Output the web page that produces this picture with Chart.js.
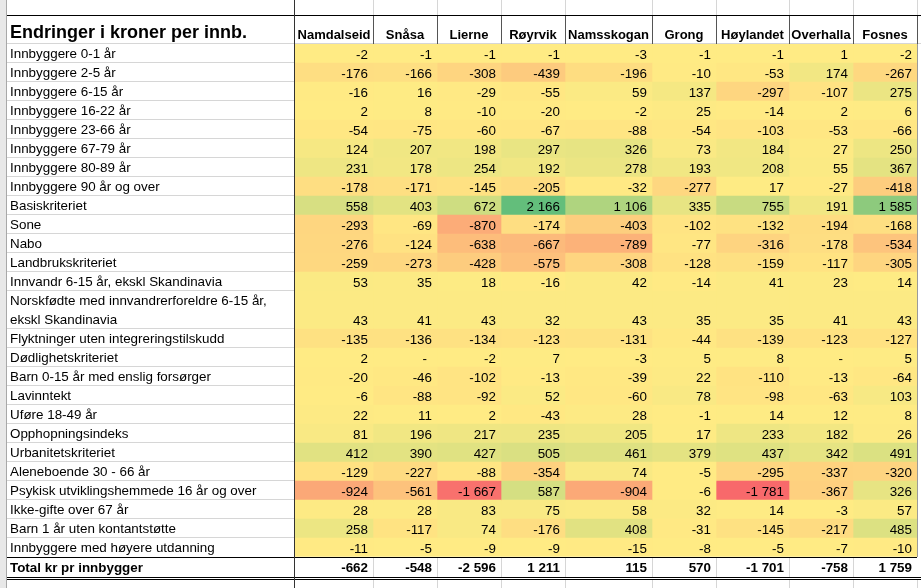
<!DOCTYPE html>
<html>
<head>
<meta charset="utf-8">
<script src="https://cdn.jsdelivr.net/npm/chart.js@4.4.1/dist/chart.umd.min.js"></script>
<style>
html,body{margin:0;padding:0;background:#fff;overflow:hidden}
#wrap{width:921px;height:588px;position:relative}
</style>
</head>
<body>
<div id="wrap"><canvas id="c" width="921" height="588"></canvas></div>
<script>
// ---------- DATA ----------
const title = 'Endringer i kroner per innb.';
const municipalities = ['Namdalseid','Snåsa','Lierne','Røyrvik','Namsskogan','Grong','Høylandet','Overhalla','Fosnes'];
const criteria = [
  'Innbyggere 0-1 år','Innbyggere 2-5 år','Innbyggere 6-15 år','Innbyggere 16-22 år',
  'Innbyggere 23-66 år','Innbyggere 67-79 år','Innbyggere 80-89 år','Innbyggere 90 år og over',
  'Basiskriteriet','Sone','Nabo','Landbrukskriteriet','Innvandr 6-15 år, ekskl Skandinavia',
  ['Norskfødte med innvandrerforeldre 6-15 år,','ekskl Skandinavia'],
  'Flyktninger uten integreringstilskudd','Dødlighetskriteriet','Barn 0-15 år med enslig forsørger',
  'Lavinntekt','Uføre 18-49 år','Opphopningsindeks','Urbanitetskriteriet','Aleneboende 30 - 66 år',
  'Psykisk utviklingshemmede 16 år og over','Ikke-gifte over 67 år','Barn 1 år uten kontantstøtte',
  'Innbyggere med høyere utdanning'
];
const totalLabel = 'Total kr pr innbygger';

const namdalseid = [-2,-176,-16,2,-54,124,231,-178,558,-293,-276,-259,53,43,-135,2,-20,-6,22,81,412,-129,-924,28,258,-11];
const snasa      = [-1,-166,16,8,-75,207,178,-171,403,-69,-124,-273,35,41,-136,0,-46,-88,11,196,390,-227,-561,28,-117,-5];
const lierne     = [-1,-308,-29,-10,-60,198,254,-145,672,-870,-638,-428,18,43,-134,-2,-102,-92,2,217,427,-88,-1667,83,74,-9];
const royrvik    = [-1,-439,-55,-20,-67,297,192,-205,2166,-174,-667,-575,-16,32,-123,7,-13,52,-43,235,505,-354,587,75,-176,-9];
const namsskogan = [-3,-196,59,-2,-88,326,278,-32,1106,-403,-789,-308,42,43,-131,-3,-39,-60,28,205,461,74,-904,58,408,-15];
const grong      = [-1,-10,137,25,-54,73,193,-277,335,-102,-77,-128,-14,35,-44,5,22,78,-1,17,379,-5,-6,32,-31,-8];
const hoylandet  = [-1,-53,-297,-14,-103,184,208,17,755,-132,-316,-159,41,35,-139,8,-110,-98,14,233,437,-295,-1781,14,-145,-5];
const overhalla  = [1,174,-107,2,-53,27,55,-27,191,-194,-178,-117,23,41,-123,0,-13,-63,12,182,342,-337,-367,-3,-217,-7];
const fosnes     = [-2,-267,275,6,-66,250,367,-418,1585,-168,-534,-305,14,43,-127,5,-64,103,8,26,491,-320,326,57,485,-10];
const totals     = [-662,-548,-2596,1211,115,570,-1701,-758,1759];

const columns = [namdalseid,snasa,lierne,royrvik,namsskogan,grong,hoylandet,overhalla,fosnes];

// ---------- LAYOUT / STYLE ----------
const W = 921, H = 588;
const COL_W = [78,64,64,64,87,64,73,64,64];
const ROW_H = 19, HEADER_H = 44, LABEL_W = 295, PAD_L = 10;
const FONT = '"Liberation Sans", Arial, sans-serif';
const FS = 13.4;
const RED = [248,105,107], YEL = [255,235,132], GRN = [99,190,123];

const rowLabels = criteria.concat([totalLabel]);
const rowSpan = criteria.map(l => Array.isArray(l) ? 2 : 1).concat([20/ROW_H]);
const rowStart = []; { let a = 0; rowSpan.forEach(s => { rowStart.push(a); a += s; }); }
const colStart = []; { let a = 0; COL_W.forEach(w => { colStart.push(a); a += w; }); }
const colCenter = colStart.map((s,j) => s + COL_W[j]/2);

// Excel style 3-colour scale (min / 50th percentile / max)
const sorted = columns.flat().slice().sort((a,b)=>a-b);
const nV = sorted.length, pIdx = (nV-1)*0.5, lo = Math.floor(pIdx);
const vMed = sorted[lo] + (sorted[Math.ceil(pIdx)] - sorted[lo])*(pIdx-lo);
const vMin = sorted[0], vMax = sorted[nV-1];
function mix(a,b,t){ return 'rgb(' + a.map((c,k)=>Math.round(c+(b[k]-c)*t)).join(',') + ')'; }
function cellColor(v){
  if (v <= vMed) return mix(RED, YEL, (v - vMin)/(vMed - vMin));
  return mix(YEL, GRN, (v - vMed)/(vMax - vMed));
}
function fmt(v){
  if (v === 0) return '-';
  const s = String(Math.abs(v)).replace(/\B(?=(\d{3})+(?!\d))/g, ' ');
  return (v < 0 ? '-' : '') + s;
}

const cellValues = columns.map((col,j) => col.concat([totals[j]]));

const datasets = municipalities.map((name,j) => ({
  label: name,
  stack: 'table',
  data: rowStart.map((s,i) => ({ x: colCenter[j], y: [s, s + rowSpan[i]] })),
  backgroundColor: cellValues[j].map((v,i) => i < criteria.length ? cellColor(v) : '#ffffff'),
  barThickness: COL_W[j],
  borderWidth: 0,
  barPercentage: 1,
  categoryPercentage: 1
}));

const tablePlugin = {
  id: 'tablePlugin',
  beforeDraw(chart){
    const c = chart.ctx;
    c.save();
    c.fillStyle = '#ffffff'; c.fillRect(0,0,chart.width,chart.height);
    c.fillStyle = '#e8e8e8'; c.fillRect(0,0,6,chart.height);
    c.fillStyle = '#a8a8a8'; c.fillRect(6,0,1,chart.height);
    c.restore();
  },
  afterDatasetsDraw(chart){
    const c = chart.ctx, ys = chart.scales.y, xs = chart.scales.x;
    c.save();
    // cell numbers
    chart.data.datasets.forEach((ds,j) => {
      const meta = chart.getDatasetMeta(j);
      meta.data.forEach((el,i) => {
        const v = cellValues[j][i];
        const bottom = Math.max(el.y, el.base);
        const right = el.x + el.width/2;
        const isTotal = i === criteria.length;
        c.font = (isTotal ? 'bold ' : '') + FS + 'px ' + FONT;
        c.fillStyle = '#000';
        c.textAlign = 'right';
        c.textBaseline = 'alphabetic';
        c.fillText(fmt(v), right - (v === 0 ? 10 : 5), bottom - (isTotal ? 5 : 4));
      });
    });
    // column header names
    c.font = 'bold 13px ' + FONT;
    c.textAlign = 'center';
    c.fillStyle = '#000';
    municipalities.forEach((m,j) => { c.fillText(m, xs.getPixelForValue(colCenter[j]), 38.5); });
    // grid lines
    const edges = colStart.map(s => Math.round(xs.getPixelForValue(s))).concat([Math.round(xs.getPixelForValue(colStart[colStart.length-1] + COL_W[COL_W.length-1]))]);
    const light = '#d6d6d6';
    c.fillStyle = light;
    rowStart.forEach((s,i) => {
      const y = Math.round(ys.getPixelForValue(s + rowSpan[i]));
      if (i < criteria.length - 1) c.fillRect(7, y-1, LABEL_W-7, 1);
    });
    c.fillRect(7, HEADER_H-1, W-7, 1);
    edges.slice(1).forEach(x => { c.fillRect(x, 0, 1, 16); });
    const yTot = Math.round(ys.getPixelForValue(rowStart[criteria.length]));
    const yTotB = Math.round(ys.getPixelForValue(rowStart[criteria.length] + rowSpan[criteria.length]));
    edges.slice(1, -1).forEach(x => { c.fillRect(x, yTot, 1, yTotB - yTot); c.fillRect(x, yTotB+3, 1, H); });
    c.fillRect(edges[edges.length-1], yTotB+3, 1, H);
    c.fillStyle = '#555';
    edges.slice(1).forEach(x => { c.fillRect(x, 16, 1, HEADER_H-16); });
    c.fillStyle = '#9a9a9a';
    c.fillRect(edges[edges.length-1], HEADER_H, 1, yTot - HEADER_H);
    c.fillStyle = '#000';
    c.fillRect(7, 15, W-7, 1);
    c.fillRect(7, yTot, edges[edges.length-1]-7, 1);
    c.fillRect(7, yTotB, W-7, 1);
    c.fillRect(7, yTotB+2, W-7, 1);
    c.fillStyle = '#333';
    c.fillRect(LABEL_W-1, 0, 1, H);
    // title
    c.fillStyle = '#000';
    c.font = 'bold 18px ' + FONT;
    c.textAlign = 'left';
    c.textBaseline = 'alphabetic';
    c.fillText(title, 10, 37.5);
    c.restore();
  }
};

new Chart(document.getElementById('c'), {
  type: 'bar',
  data: { datasets },
  plugins: [tablePlugin],
  options: {
    responsive: false,
    animation: false,
    devicePixelRatio: 1,
    layout: { padding: { left: PAD_L, top: 0, right: 0, bottom: 0 }, autoPadding: false },
    plugins: { legend: { display: false }, tooltip: { enabled: false }, title: { display: false } },
    scales: {
      x: {
        type: 'linear', position: 'top', min: 0, max: W - LABEL_W, offset: false,
        grid: { display: false, offset: false }, border: { display: false },
        ticks: { display: false },
        afterFit: s => { s.height = HEADER_H; s.paddingLeft = 0; s.paddingRight = 0; }
      },
      y: {
        type: 'linear', reverse: true, stacked: false, min: 0, max: (H - HEADER_H) / ROW_H,
        grid: { display: false }, border: { display: false },
        ticks: {
          autoSkip: false, crossAlign: 'far', padding: 0, color: '#000',
          font: ctx => ({ family: FONT, size: FS, lineHeight: '19px', weight: ctx.index === criteria.length ? 'bold' : 'normal' }),
          callback: (v, i) => rowLabels[i]
        },
        afterBuildTicks: s => { s.ticks = rowStart.map((st, i) => ({ value: st + rowSpan[i] / 2 + 1 / ROW_H })); },
        afterFit: s => { s.width = LABEL_W - PAD_L; s.paddingTop = 0; s.paddingBottom = 0; }
      }
    }
  }
});
</script>
</body>
</html>
